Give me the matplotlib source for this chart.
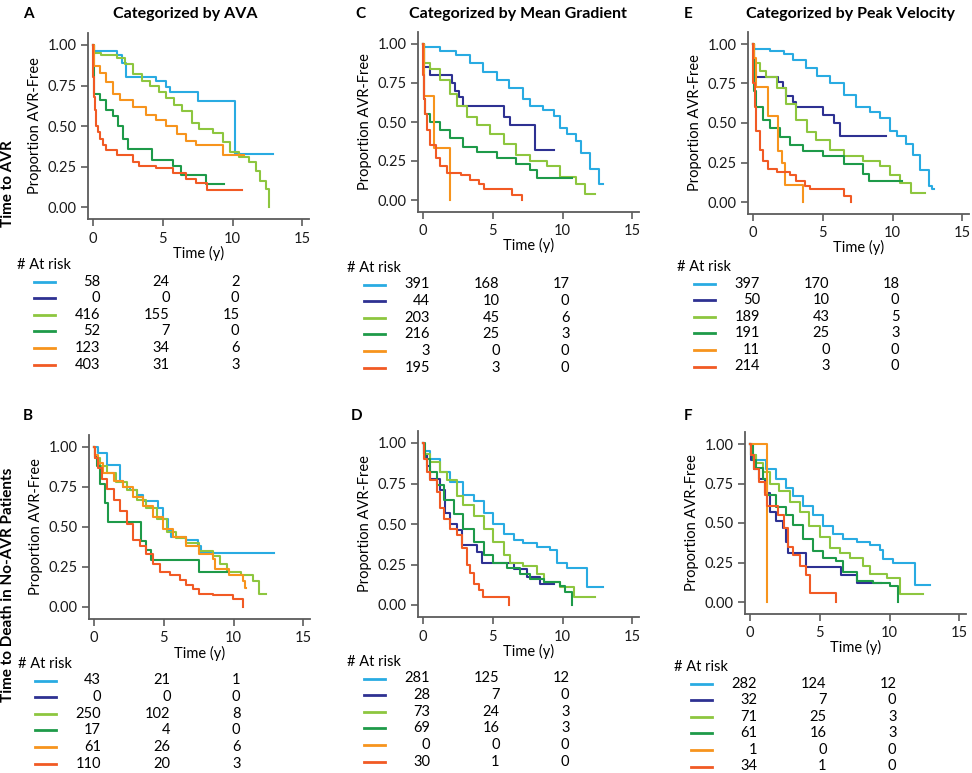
import matplotlib.pyplot as plt
from matplotlib.lines import Line2D
from matplotlib import transforms

plt.rcParams['font.family'] = ['Lato', 'DejaVu Sans']

W, H = 972, 773

# group order: light blue, navy, lime, green, orange, red
colors = ['#29ABE2', '#2E3192', '#8DC63F', '#1E9A49', '#F7941D', '#F15A24']
risk_times = [0, 5, 10]

# ---- A: time to AVR, by AVA ----
a_blue_t = [0, 0.05, 1.7, 2.1, 2.4, 4.5, 5.2, 5.5, 7.5, 10.2, 12.9]
a_blue_s = [1.0, 0.96, 0.94, 0.89, 0.80, 0.775, 0.74, 0.71, 0.655, 0.325, 0.325]
a_lime_t = [0, 0.05, 0.6, 1.7, 2.3, 2.9, 3.5, 4.1, 4.7, 5.2, 5.8, 6.4, 7.1, 7.6, 8.6, 9.3, 9.8, 10.5, 11.2, 11.7, 12.0, 12.4, 12.6]
a_lime_s = [1.0, 0.95, 0.94, 0.92, 0.88, 0.82, 0.78, 0.75, 0.71, 0.67, 0.63, 0.59, 0.52, 0.48, 0.455, 0.40, 0.34, 0.31, 0.28, 0.22, 0.16, 0.11, 0.0]
a_green_t = [0, 0.05, 0.5, 0.95, 1.4, 1.8, 2.15, 2.5, 4.2, 5.7, 6.3, 8.1, 9.4]
a_green_s = [1.0, 0.70, 0.66, 0.60, 0.56, 0.50, 0.42, 0.36, 0.29, 0.255, 0.20, 0.14, 0.14]
a_orange_t = [0, 0.05, 0.5, 0.95, 1.4, 1.9, 2.9, 3.8, 4.5, 5.2, 6.0, 6.7, 7.4, 9.3, 10.8]
a_orange_s = [1.0, 0.87, 0.83, 0.77, 0.70, 0.66, 0.615, 0.57, 0.54, 0.50, 0.45, 0.41, 0.38, 0.32, 0.32]
a_red_t = [0, 0.03, 0.07, 0.12, 0.18, 0.25, 0.35, 0.5, 0.7, 0.95, 1.7, 2.9, 3.3, 4.5, 5.7, 6.7, 7.4, 8.2, 10.7]
a_red_s = [1.0, 0.80, 0.68, 0.60, 0.54, 0.50, 0.46, 0.42, 0.38, 0.35, 0.32, 0.28, 0.255, 0.24, 0.21, 0.17, 0.15, 0.105, 0.105]
a_risk = [[58, 24, 2], [0, 0, 0], [416, 155, 15], [52, 7, 0], [123, 34, 6], [403, 31, 3]]

# ---- C: time to AVR, by mean gradient ----
c_blue_t = [0, 0.05, 1.2, 2.4, 3.4, 4.3, 5.3, 6.2, 7.2, 7.7, 8.6, 9.4, 9.8, 10.3, 11.0, 11.3, 12.0, 12.6, 12.9]
c_blue_s = [1.0, 0.98, 0.955, 0.93, 0.88, 0.82, 0.77, 0.72, 0.65, 0.60, 0.58, 0.54, 0.46, 0.42, 0.38, 0.30, 0.20, 0.10, 0.10]
c_navy_t = [0, 0.05, 0.5, 2.1, 2.3, 2.55, 2.9, 5.8, 6.25, 8.0, 9.4]
c_navy_s = [1.0, 0.85, 0.80, 0.75, 0.70, 0.66, 0.60, 0.53, 0.48, 0.32, 0.32]
c_lime_t = [0, 0.05, 0.5, 1.25, 1.95, 2.45, 3.15, 3.9, 4.8, 5.8, 6.7, 7.7, 8.9, 9.8, 11.0, 11.6, 12.3]
c_lime_s = [1.0, 0.88, 0.84, 0.77, 0.68, 0.60, 0.53, 0.48, 0.42, 0.36, 0.29, 0.25, 0.22, 0.15, 0.10, 0.04, 0.04]
c_green_t = [0, 0.05, 0.17, 0.5, 1.25, 1.95, 2.9, 3.9, 5.3, 6.7, 7.7, 8.2, 10.7]
c_green_s = [1.0, 0.65, 0.55, 0.50, 0.45, 0.40, 0.34, 0.31, 0.27, 0.23, 0.19, 0.14, 0.14]
c_orange_t = [0, 0.1, 0.8, 1.9]
c_orange_s = [1.0, 0.667, 0.333, 0.0]
c_red_t = [0, 0.03, 0.1, 0.17, 0.3, 0.5, 0.9, 1.25, 1.7, 2.7, 3.4, 4.0, 4.35, 6.4, 7.1]
c_red_s = [1.0, 0.80, 0.65, 0.55, 0.45, 0.35, 0.27, 0.22, 0.17, 0.16, 0.13, 0.10, 0.07, 0.03, 0.0]
c_risk = [[391, 168, 17], [44, 10, 0], [203, 45, 6], [216, 25, 3], [3, 0, 0], [195, 3, 0]]

# ---- E: time to AVR, by peak velocity ----
e_blue_t = [0, 0.05, 1.2, 2.2, 2.9, 3.8, 4.6, 5.5, 6.5, 7.4, 8.4, 9.1, 9.8, 10.3, 11.0, 11.5, 12.0, 12.6, 12.8, 12.95]
e_blue_s = [1.0, 0.97, 0.955, 0.935, 0.90, 0.85, 0.80, 0.75, 0.68, 0.60, 0.57, 0.53, 0.45, 0.42, 0.37, 0.30, 0.20, 0.10, 0.08, 0.08]
e_navy_t = [0, 0.05, 0.25, 1.8, 2.15, 2.4, 2.9, 3.1, 5.0, 5.8, 6.25, 9.5]
e_navy_s = [1.0, 0.83, 0.79, 0.76, 0.72, 0.67, 0.63, 0.60, 0.55, 0.50, 0.42, 0.42]
e_lime_t = [0, 0.05, 0.5, 0.95, 1.7, 2.4, 3.1, 3.85, 4.55, 5.5, 6.5, 7.9, 9.1, 9.8, 10.55, 11.3, 12.35]
e_lime_s = [1.0, 0.88, 0.83, 0.79, 0.72, 0.62, 0.52, 0.44, 0.39, 0.33, 0.29, 0.26, 0.23, 0.17, 0.12, 0.06, 0.06]
e_green_t = [0, 0.05, 0.25, 0.7, 1.2, 1.9, 2.65, 3.6, 5.0, 6.5, 7.9, 8.3, 10.7]
e_green_s = [1.0, 0.70, 0.60, 0.52, 0.47, 0.41, 0.36, 0.32, 0.29, 0.24, 0.18, 0.13, 0.13]
e_orange_t = [0, 0.1, 0.2, 1.1, 1.8, 2.05, 2.3, 3.55]
e_orange_s = [1.0, 0.91, 0.727, 0.545, 0.32, 0.245, 0.11, 0.0]
e_red_t = [0, 0.03, 0.12, 0.25, 0.5, 0.7, 1.1, 1.7, 2.65, 3.1, 3.7, 4.1, 6.5, 7.05]
e_red_s = [1.0, 0.75, 0.60, 0.45, 0.33, 0.26, 0.21, 0.19, 0.17, 0.13, 0.10, 0.08, 0.04, 0.0]
e_risk = [[397, 170, 18], [50, 10, 0], [189, 43, 5], [191, 25, 3], [11, 0, 0], [214, 3, 0]]

# ---- B: time to death in no-AVR patients, by AVA ----
b_blue_t = [0, 0.3, 0.9, 1.85, 2.1, 2.55, 3.05, 3.5, 4.6, 4.95, 5.3, 5.55, 6.6, 7.45, 7.7, 12.9]
b_blue_s = [1.0, 0.96, 0.885, 0.79, 0.75, 0.73, 0.70, 0.66, 0.62, 0.55, 0.48, 0.44, 0.42, 0.38, 0.34, 0.34]
b_lime_t = [0, 0.1, 0.45, 0.9, 1.6, 2.35, 3.05, 3.75, 4.5, 5.2, 5.9, 6.6, 7.55, 8.5, 9.0, 9.5, 10.55, 11.4, 11.85, 12.3]
b_lime_s = [1.0, 0.93, 0.88, 0.84, 0.78, 0.73, 0.67, 0.62, 0.55, 0.47, 0.43, 0.40, 0.35, 0.32, 0.27, 0.22, 0.20, 0.16, 0.08, 0.08]
b_green_t = [0, 0.05, 0.2, 0.45, 0.8, 1.0, 3.4, 3.75, 4.1, 7.55, 9.5]
b_green_s = [1.0, 0.94, 0.88, 0.77, 0.65, 0.53, 0.41, 0.355, 0.296, 0.22, 0.22]
b_orange_t = [0, 0.1, 0.3, 0.65, 1.4, 2.1, 2.8, 3.5, 4.25, 4.95, 5.65, 6.6, 7.55, 8.5, 8.65, 9.7, 10.65, 10.8, 10.9]
b_orange_s = [1.0, 0.95, 0.90, 0.84, 0.79, 0.75, 0.69, 0.63, 0.56, 0.49, 0.44, 0.38, 0.33, 0.30, 0.24, 0.20, 0.16, 0.12, 0.12]
b_red_t = [0, 0.1, 0.3, 0.55, 0.9, 1.4, 1.85, 2.35, 2.8, 3.3, 3.75, 4.25, 4.7, 5.45, 6.15, 6.6, 7.1, 7.55, 8.5, 9.95, 10.65]
b_red_s = [1.0, 0.93, 0.87, 0.80, 0.74, 0.67, 0.60, 0.52, 0.42, 0.38, 0.33, 0.27, 0.22, 0.20, 0.17, 0.14, 0.11, 0.083, 0.073, 0.048, 0.0]
b_risk = [[43, 21, 1], [0, 0, 0], [250, 102, 8], [17, 4, 0], [61, 26, 6], [110, 20, 3]]

# ---- D: time to death in no-AVR patients, by mean gradient ----
d_blue_t = [0, 0.1, 0.5, 1.25, 1.95, 2.9, 3.65, 4.35, 5.05, 5.8, 6.5, 7.2, 8.15, 9.1, 9.6, 10.3, 11.75, 12.9]
d_blue_s = [1.0, 0.95, 0.90, 0.82, 0.76, 0.68, 0.64, 0.57, 0.50, 0.44, 0.40, 0.38, 0.36, 0.34, 0.26, 0.23, 0.11, 0.11]
d_navy_t = [0, 0.05, 0.3, 0.5, 1.25, 1.6, 1.95, 2.45, 2.8, 3.85, 4.2, 6.5, 7.45, 8.4, 9.4]
d_navy_s = [1.0, 0.93, 0.86, 0.78, 0.71, 0.57, 0.50, 0.46, 0.37, 0.33, 0.26, 0.22, 0.17, 0.13, 0.13]
d_lime_t = [0, 0.1, 0.5, 1.25, 1.7, 2.45, 2.9, 3.65, 4.35, 5.05, 5.8, 6.25, 7.2, 8.15, 8.65, 9.8, 10.8, 12.3]
d_lime_s = [1.0, 0.93, 0.88, 0.82, 0.77, 0.67, 0.62, 0.55, 0.47, 0.39, 0.31, 0.26, 0.24, 0.19, 0.14, 0.11, 0.05, 0.05]
d_green_t = [0, 0.15, 0.5, 1.0, 1.5, 2.2, 2.9, 3.65, 4.35, 5.05, 6.0, 6.95, 7.7, 8.65, 9.8, 10.2, 10.65]
d_green_s = [1.0, 0.90, 0.82, 0.74, 0.65, 0.56, 0.47, 0.39, 0.31, 0.26, 0.23, 0.19, 0.16, 0.14, 0.12, 0.08, 0.0]
d_red_t = [0, 0.1, 0.3, 0.5, 1.0, 1.25, 1.5, 1.95, 2.45, 2.8, 3.15, 3.4, 3.65, 4.0, 4.3, 6.2]
d_red_s = [1.0, 0.90, 0.82, 0.77, 0.70, 0.60, 0.53, 0.47, 0.43, 0.35, 0.25, 0.20, 0.13, 0.09, 0.05, 0.0]
d_risk = [[281, 125, 12], [28, 7, 0], [73, 24, 3], [69, 16, 3], [0, 0, 0], [30, 1, 0]]

# ---- F: time to death in no-AVR patients, by peak velocity ----
f_blue_t = [0, 0.1, 0.45, 1.15, 1.85, 2.6, 3.05, 3.8, 4.5, 5.25, 5.95, 6.65, 7.65, 8.6, 9.3, 9.55, 10.25, 11.8, 12.9]
f_blue_s = [1.0, 0.93, 0.90, 0.84, 0.78, 0.72, 0.67, 0.61, 0.55, 0.48, 0.43, 0.40, 0.38, 0.36, 0.33, 0.27, 0.25, 0.11, 0.11]
f_navy_t = [0, 0.05, 0.3, 0.65, 1.05, 1.4, 1.85, 2.35, 2.6, 2.7, 4.0, 6.55, 7.65, 9.4]
f_navy_s = [1.0, 0.90, 0.84, 0.78, 0.69, 0.57, 0.51, 0.47, 0.38, 0.31, 0.22, 0.17, 0.12, 0.12]
f_lime_t = [0, 0.1, 0.45, 0.9, 1.4, 2.1, 2.85, 3.55, 4.25, 5.0, 5.7, 6.45, 7.15, 8.1, 8.6, 9.8, 10.75, 12.4]
f_lime_s = [1.0, 0.93, 0.88, 0.82, 0.75, 0.70, 0.63, 0.57, 0.48, 0.41, 0.34, 0.31, 0.28, 0.23, 0.18, 0.15, 0.05, 0.05]
f_green_t = [0, 0.2, 0.45, 0.9, 1.25, 1.85, 2.6, 3.05, 3.8, 4.5, 5.25, 6.2, 6.65, 7.65, 8.8, 10.0, 10.6]
f_green_s = [1.0, 0.90, 0.85, 0.78, 0.68, 0.60, 0.55, 0.49, 0.40, 0.32, 0.28, 0.26, 0.19, 0.13, 0.12, 0.10, 0.0]
f_orange_t = [0, 1.22]
f_orange_s = [1.0, 0.0]
f_red_t = [0, 0.1, 0.3, 0.65, 1.05, 1.25, 2.0, 2.45, 2.7, 3.05, 3.55, 4.05, 4.3, 6.2]
f_red_s = [1.0, 0.93, 0.84, 0.76, 0.68, 0.61, 0.55, 0.47, 0.35, 0.30, 0.23, 0.17, 0.06, 0.0]
f_risk = [[282, 124, 12], [32, 7, 0], [71, 25, 3], [61, 16, 3], [1, 0, 0], [34, 1, 0]]

fig = plt.figure(figsize=(W / 100, H / 100), dpi=100)


def fx(x):
    return x / W


def fy(y):
    return 1 - y / H


def draw_panel(x0, y1, y0, curves, risk, head_y):
    # x0: pixel of t=0, y1/y0: pixels of 1.00 and 0.00
    pxu = 13.95
    pxs = y0 - y1
    left, right = x0 - 0.36 * pxu, x0 + 15.45 * pxu
    top, bottom = y1 - 0.075 * pxs, y0 + 0.075 * pxs
    ax = fig.add_axes([fx(left), fy(bottom), (right - left) / W, (bottom - top) / H])
    for (t, s), c in zip(curves, colors):
        if t:
            ax.step(t, s, where='post', color=c, lw=1.5)
    ax.set_xlim(-0.36, 15.45)
    ax.set_ylim(-0.075, 1.075)
    ax.set_xticks([0, 5, 10, 15])
    ax.set_yticks([0, 0.25, 0.5, 0.75, 1.0])
    ax.set_yticklabels(['0.00', '0.25', '0.50', '0.75', '1.00'])
    for side in ['top', 'right']:
        ax.spines[side].set_visible(False)
    for side in ['left', 'bottom']:
        ax.spines[side].set_color('#5c5c5c')
        ax.spines[side].set_linewidth(1.3)
    ax.tick_params(direction='out', length=5, width=1.2, color='#5c5c5c',
                   labelsize=10.5, labelcolor='#1a1a1a', pad=3)
    ax.tick_params(axis='x', pad=4)
    ax.set_xlabel('Time (y)', fontsize=10.5, labelpad=0)
    ax.set_ylabel('Proportion AVR-Free', fontsize=10.5, labelpad=4)

    # risk table under the axis
    trans = transforms.blended_transform_factory(ax.transData, fig.transFigure)
    fig.text(fx(x0 - 76), fy(head_y), '# At risk', fontsize=10.5, va='center', ha='left')
    for i, (row, c) in enumerate(zip(risk, colors)):
        yy = head_y + 16.5 + 16.6 * i
        fig.add_artist(Line2D([fx(x0 - 59), fx(x0 - 38)], [fy(yy), fy(yy)],
                              color=c, lw=2, transform=fig.transFigure))
        for t, n in zip(risk_times, row):
            ax.text(t + 0.5, fy(yy), str(n), transform=trans, ha='right', va='center',
                    fontsize=10.5)
    return ax


draw_panel(93, 45, 207,
           [(a_blue_t, a_blue_s), ([], []), (a_lime_t, a_lime_s), (a_green_t, a_green_s),
            (a_orange_t, a_orange_s), (a_red_t, a_red_s)], a_risk, 265)
draw_panel(423, 44, 200,
           [(c_blue_t, c_blue_s), (c_navy_t, c_navy_s), (c_lime_t, c_lime_s), (c_green_t, c_green_s),
            (c_orange_t, c_orange_s), (c_red_t, c_red_s)], c_risk, 268)
draw_panel(753, 44, 202,
           [(e_blue_t, e_blue_s), (e_navy_t, e_navy_s), (e_lime_t, e_lime_s), (e_green_t, e_green_s),
            (e_orange_t, e_orange_s), (e_red_t, e_red_s)], e_risk, 267)
draw_panel(94, 447, 607,
           [(b_blue_t, b_blue_s), ([], []), (b_lime_t, b_lime_s), (b_green_t, b_green_s),
            (b_orange_t, b_orange_s), (b_red_t, b_red_s)], b_risk, 664)
draw_panel(423, 443, 605,
           [(d_blue_t, d_blue_s), (d_navy_t, d_navy_s), (d_lime_t, d_lime_s), (d_green_t, d_green_s),
            ([], []), (d_red_t, d_red_s)], d_risk, 662)
draw_panel(750, 444, 602,
           [(f_blue_t, f_blue_s), (f_navy_t, f_navy_s), (f_lime_t, f_lime_s), (f_green_t, f_green_s),
            (f_orange_t, f_orange_s), (f_red_t, f_red_s)], f_risk, 667)

# titles, panel letters, row labels
fig.text(fx(185), fy(14), 'Categorized by AVA', fontsize=11.5, fontweight='bold', ha='center', va='center')
fig.text(fx(518), fy(14), 'Categorized by Mean Gradient', fontsize=11.5, fontweight='bold', ha='center', va='center')
fig.text(fx(850), fy(14), 'Categorized by Peak Velocity', fontsize=11.5, fontweight='bold', ha='center', va='center')
for letter, x, y in [('A', 28, 14), ('C', 360, 14), ('E', 688, 14),
                     ('B', 28, 416), ('D', 357, 416), ('F', 688, 416)]:
    fig.text(fx(x), fy(y), letter, fontsize=11, fontweight='bold', ha='center', va='center')
fig.text(fx(8), fy(184), 'Time to AVR', fontsize=11, fontweight='bold', rotation=90,
         ha='center', va='center')
fig.text(fx(8), fy(585), 'Time to Death in No-AVR Patients', fontsize=11, fontweight='bold',
         rotation=90, ha='center', va='center')

fig.savefig('out.png', dpi=100)
